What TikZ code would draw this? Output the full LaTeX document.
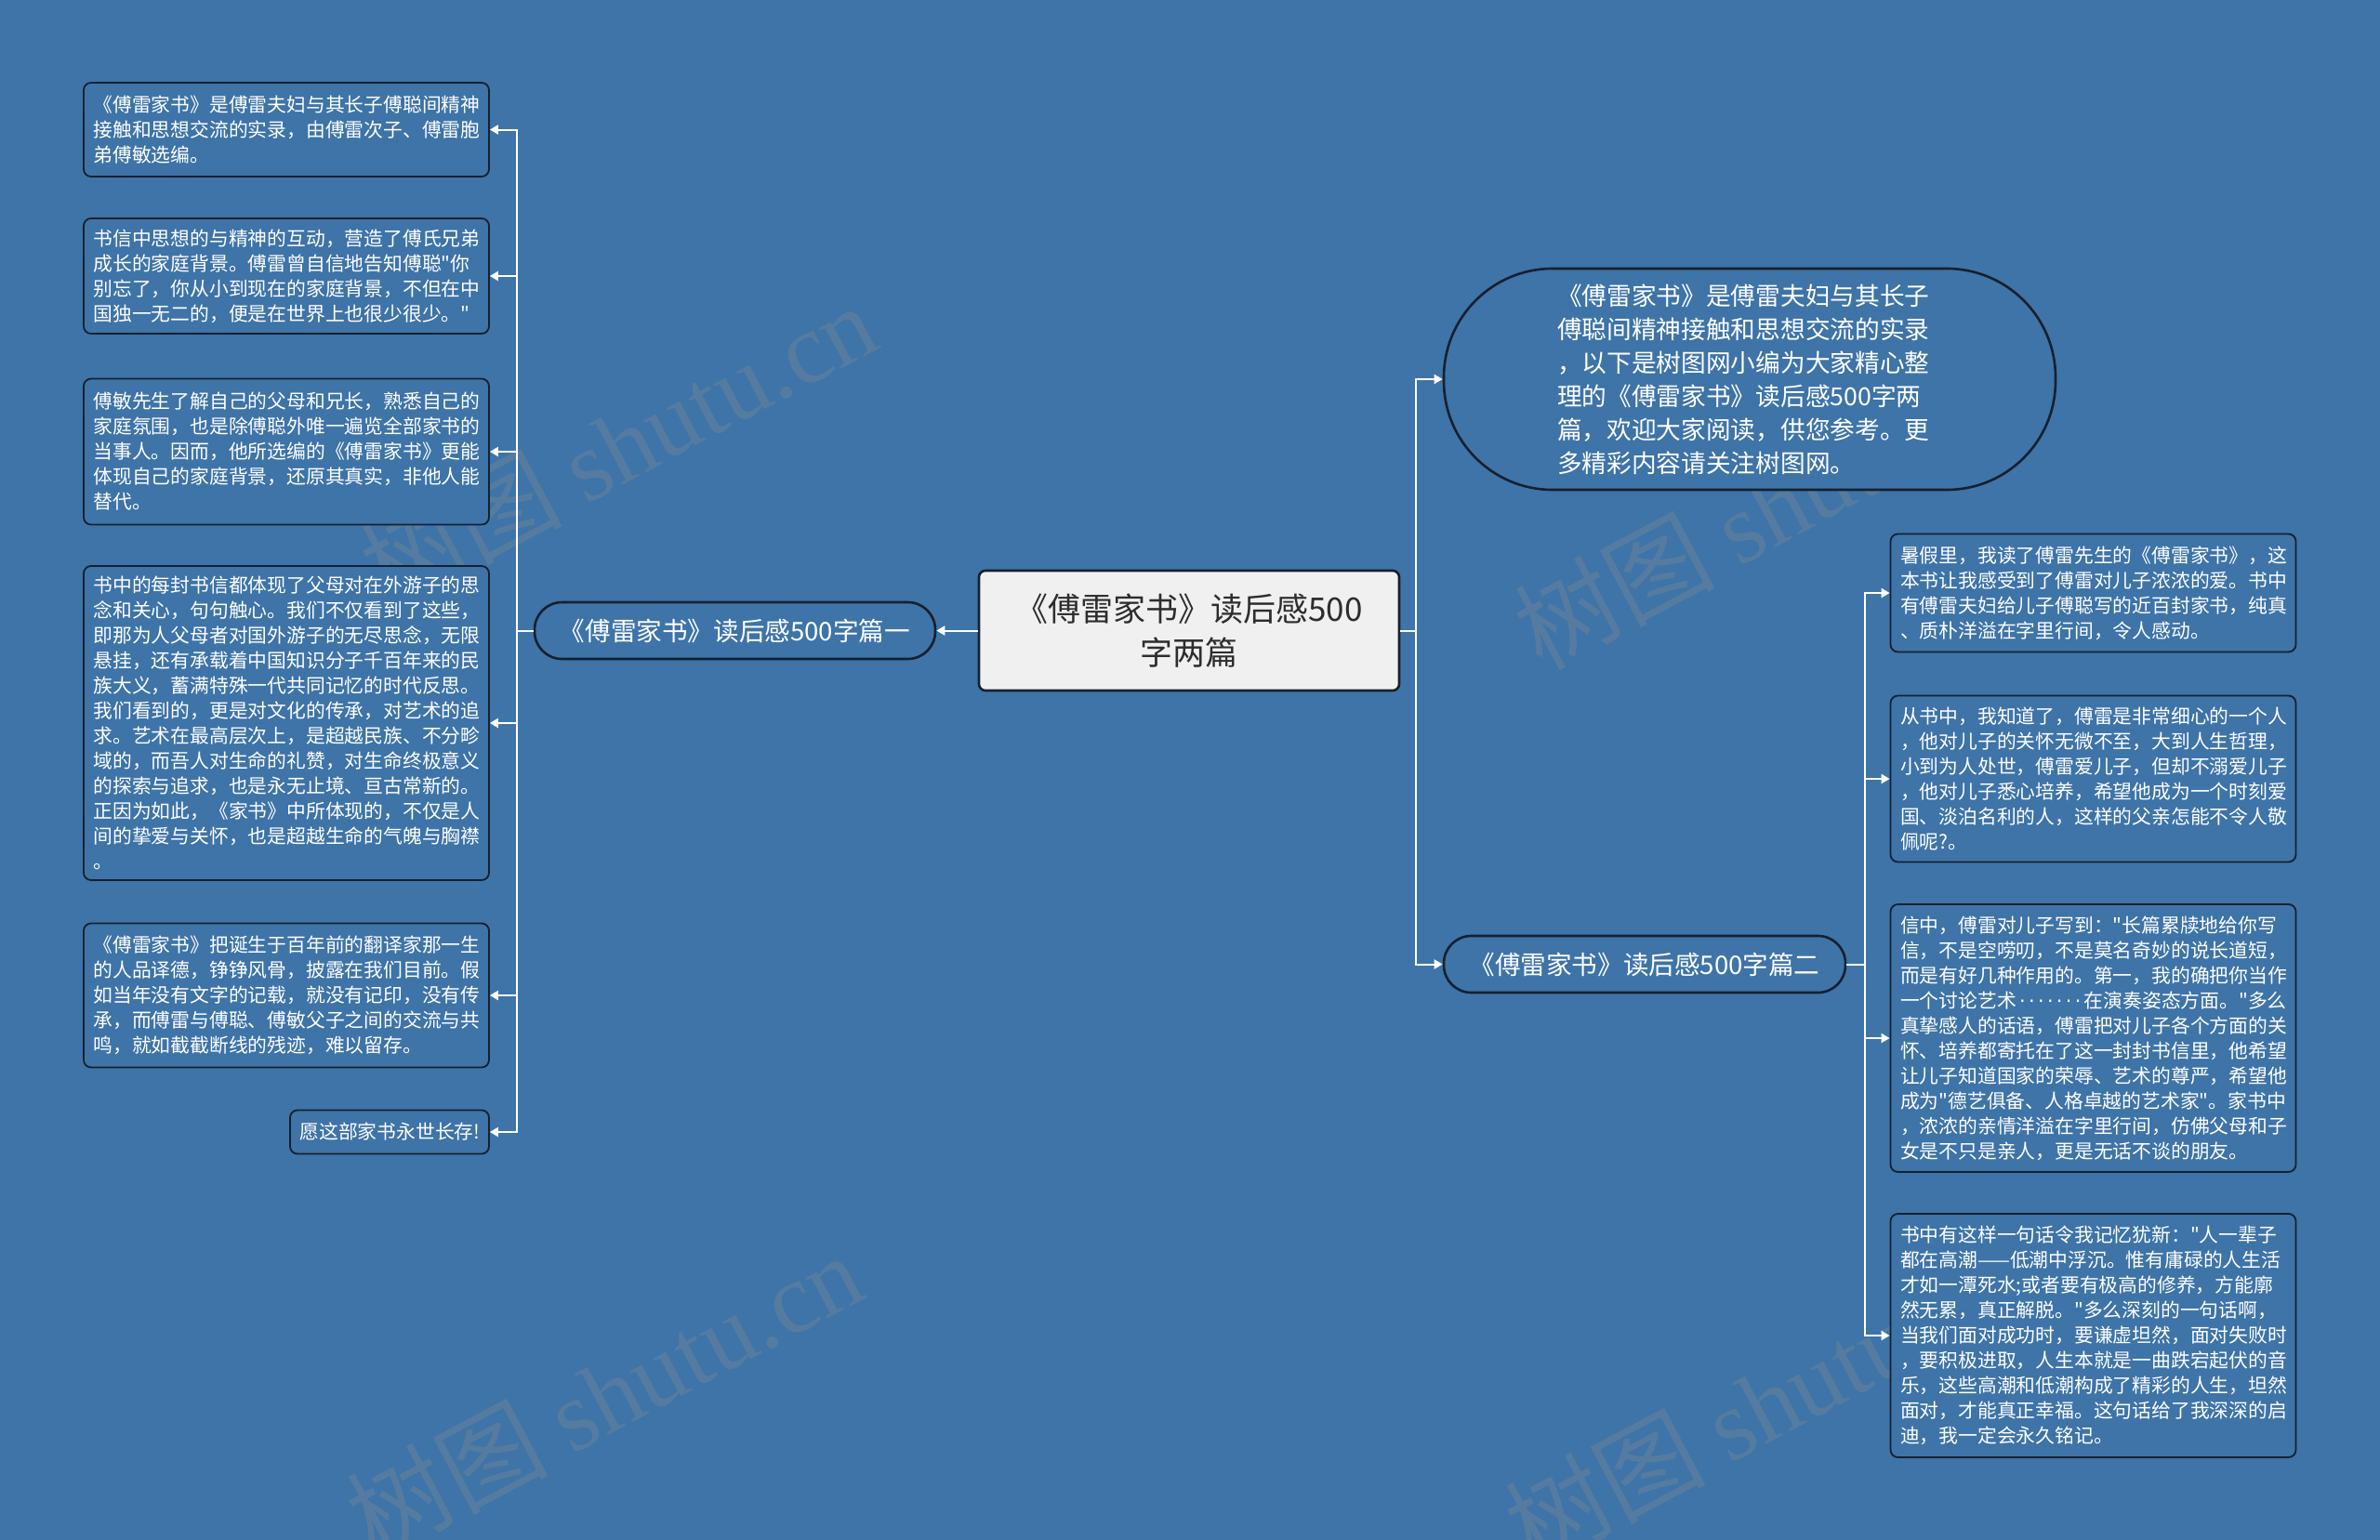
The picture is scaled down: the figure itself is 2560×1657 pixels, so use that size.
\documentclass[tikz,border=0pt]{standalone}
\usepackage{fontspec}
\setmainfont{Noto Sans CJK SC}[Ligatures=TeXOff]
\newfontfamily\wmfont{Liberation Serif}
\newfontfamily\dotfont{DejaVu Sans}
\usetikzlibrary{arrows.meta}
\definecolor{bg}{RGB}{62,116,167}
\definecolor{bd}{RGB}{22,32,48}
\definecolor{rootfill}{RGB}{240,240,240}
\definecolor{roottext}{RGB}{45,45,45}
\definecolor{wm}{RGB}{140,140,145}
\newcommand\sevendots{\hbox to 73pt{\dotfont\hfil·\hfil·\hfil·\hfil·\hfil·\hfil·\hfil·\hfil}}
\begin{document}
\begin{tikzpicture}[x=1pt,y=-1pt,
  leaf/.style={draw=bd,line width=1.8pt,fill=bg,rounded corners=8pt,text=white,
     font=\fontsize{20.8}{27}\selectfont,align=left,text width=415pt,inner xsep=10.5pt,inner ysep=0pt,anchor=center},
  pill/.style={draw=bd,line width=2.6pt,fill=bg,text=white,inner sep=0pt,anchor=center},
  conn/.style={draw=white,line width=2pt},
  arr/.style={conn,-{Triangle[width=10pt,length=9pt]}},
  wmark/.style={text=wm,opacity=0.3,rotate=28,font=\fontsize{108}{108}\selectfont}
]
\fill[bg] (0,0) rectangle (2560,1657);
\useasboundingbox (0,0) rectangle (2560,1657);

% watermarks
\node[wmark] (w1) at (665,478) {树图 {\wmfont shutu.cn}};
\node[wmark] (w2) at (1905,545) {树图 {\wmfont shutu.cn}};
\node[wmark] (w3) at (650,1500) {树图 {\wmfont shutu.cn}};
\node[wmark] (w4) at (1895,1510) {树图 {\wmfont shutu.cn}};

% root
\node[draw=bd,line width=2.6pt,fill=rootfill,rounded corners=7pt,text=roottext,
  minimum width=452pt,minimum height=129pt,align=center,
  font=\fontsize{35}{47}\selectfont,anchor=center] (root) at (1279,678.5)
  {《傅雷家书》读后感500\\字两篇};

% first level
\node[pill,rounded corners=29.5pt,minimum width=431pt,minimum height=61pt,
  font=\fontsize{27.6}{34}\selectfont] (p1) at (790.5,678.5) {《傅雷家书》读后感500字篇一};
\node[pill,rounded corners=117pt,minimum width=658pt,minimum height=238pt] (intro) at (1882,408) {};
\node[text=white,font=\fontsize{26.7}{36}\selectfont,align=left,text width=402pt,inner sep=0pt,anchor=center] (introtext) at (1876,408)
  {《傅雷家书》是傅雷夫妇与其长子\\傅聪间精神接触和思想交流的实录\\，以下是树图网小编为大家精心整\\理的《傅雷家书》读后感500字两\\篇，欢迎大家阅读，供您参考。更\\多精彩内容请关注树图网。};
\node[pill,rounded corners=29.5pt,minimum width=432pt,minimum height=61pt,
  font=\fontsize{27.6}{34}\selectfont] (p2) at (1769,1037.5) {《傅雷家书》读后感500字篇二};

% left leaves
\node[leaf,minimum height=101pt] (l1) at (308,139.5)
 {《傅雷家书》是傅雷夫妇与其长子傅聪间精神\\接触和思想交流的实录，由傅雷次子、傅雷胞\\弟傅敏选编。};
\node[leaf,minimum height=124pt] (l2) at (308,297)
 {书信中思想的与精神的互动，营造了傅氏兄弟\\成长的家庭背景。傅雷曾自信地告知傅聪"你\\别忘了，你从小到现在的家庭背景，不但在中\\国独一无二的，便是在世界上也很少很少。"};
\node[leaf,minimum height=157pt] (l3) at (308,486)
 {傅敏先生了解自己的父母和兄长，熟悉自己的\\家庭氛围，也是除傅聪外唯一遍览全部家书的\\当事人。因而，他所选编的《傅雷家书》更能\\体现自己的家庭背景，还原其真实，非他人能\\替代。};
\node[leaf,minimum height=338pt] (l4) at (308,778)
 {书中的每封书信都体现了父母对在外游子的思\\念和关心，句句触心。我们不仅看到了这些，\\即那为人父母者对国外游子的无尽思念，无限\\悬挂，还有承载着中国知识分子千百年来的民\\族大义，蓄满特殊一代共同记忆的时代反思。\\我们看到的，更是对文化的传承，对艺术的追\\求。艺术在最高层次上，是超越民族、不分畛\\域的，而吾人对生命的礼赞，对生命终极意义\\的探索与追求，也是永无止境、亘古常新的。\\正因为如此，《家书》中所体现的，不仅是人\\间的挚爱与关怀，也是超越生命的气魄与胸襟\\。};
\node[leaf,minimum height=155pt] (l5) at (308,1071)
 {《傅雷家书》把诞生于百年前的翻译家那一生\\的人品译德，铮铮风骨，披露在我们目前。假\\如当年没有文字的记载，就没有记印，没有传\\承，而傅雷与傅聪、傅敏父子之间的交流与共\\鸣，就如截截断线的残迹，难以留存。};
\node[leaf,text width=193pt,minimum height=47pt] (l6) at (419,1218)
 {愿这部家书永世长存!};

% right leaves
\node[leaf,minimum height=127pt] (r1) at (2251.5,638)
 {暑假里，我读了傅雷先生的《傅雷家书》，这\\本书让我感受到了傅雷对儿子浓浓的爱。书中\\有傅雷夫妇给儿子傅聪写的近百封家书，纯真\\、质朴洋溢在字里行间，令人感动。};
\node[leaf,minimum height=179pt] (r2) at (2251.5,838)
 {从书中，我知道了，傅雷是非常细心的一个人\\，他对儿子的关怀无微不至，大到人生哲理，\\小到为人处世，傅雷爱儿子，但却不溺爱儿子\\，他对儿子悉心培养，希望他成为一个时刻爱\\国、淡泊名利的人，这样的父亲怎能不令人敬\\佩呢?。};
\node[leaf,minimum height=288pt] (r3) at (2251.5,1117)
 {信中，傅雷对儿子写到："长篇累牍地给你写\\信，不是空唠叨，不是莫名奇妙的说长道短，\\而是有好几种作用的。第一，我的确把你当作\\一个讨论艺术\sevendots 在演奏姿态方面。"多么\\真挚感人的话语，傅雷把对儿子各个方面的关\\怀、培养都寄托在了这一封封书信里，他希望\\让儿子知道国家的荣辱、艺术的尊严，希望他\\成为"德艺俱备、人格卓越的艺术家"。家书中\\，浓浓的亲情洋溢在字里行间，仿佛父母和子\\女是不只是亲人，更是无话不谈的朋友。};
\node[leaf,minimum height=262pt] (r4) at (2251.5,1437)
 {书中有这样一句话令我记忆犹新："人一辈子\\都在高潮——低潮中浮沉。惟有庸碌的人生活\\才如一潭死水;或者要有极高的修养，方能廓\\然无累，真正解脱。"多么深刻的一句话啊，\\当我们面对成功时，要谦虚坦然，面对失败时\\，要积极进取，人生本就是一曲跌宕起伏的音\\乐，这些高潮和低潮构成了精彩的人生，坦然\\面对，才能真正幸福。这句话给了我深深的启\\迪，我一定会永久铭记。};

% connectors
\draw[arr] (root.west) -- (p1.east);
\foreach \n in {l1,l2,l3,l4,l5,l6}
  \draw[arr] (p1.west) -- ++(-18,0) |- (\n.east);
\draw[arr] (root.east) -- ++(17,0) |- (intro.west);
\draw[arr] (root.east) -- ++(17,0) |- (p2.west);
\foreach \n in {r1,r2,r3,r4}
  \draw[arr] (p2.east) -- ++(20,0) |- (\n.west);
\end{tikzpicture}
\end{document}
